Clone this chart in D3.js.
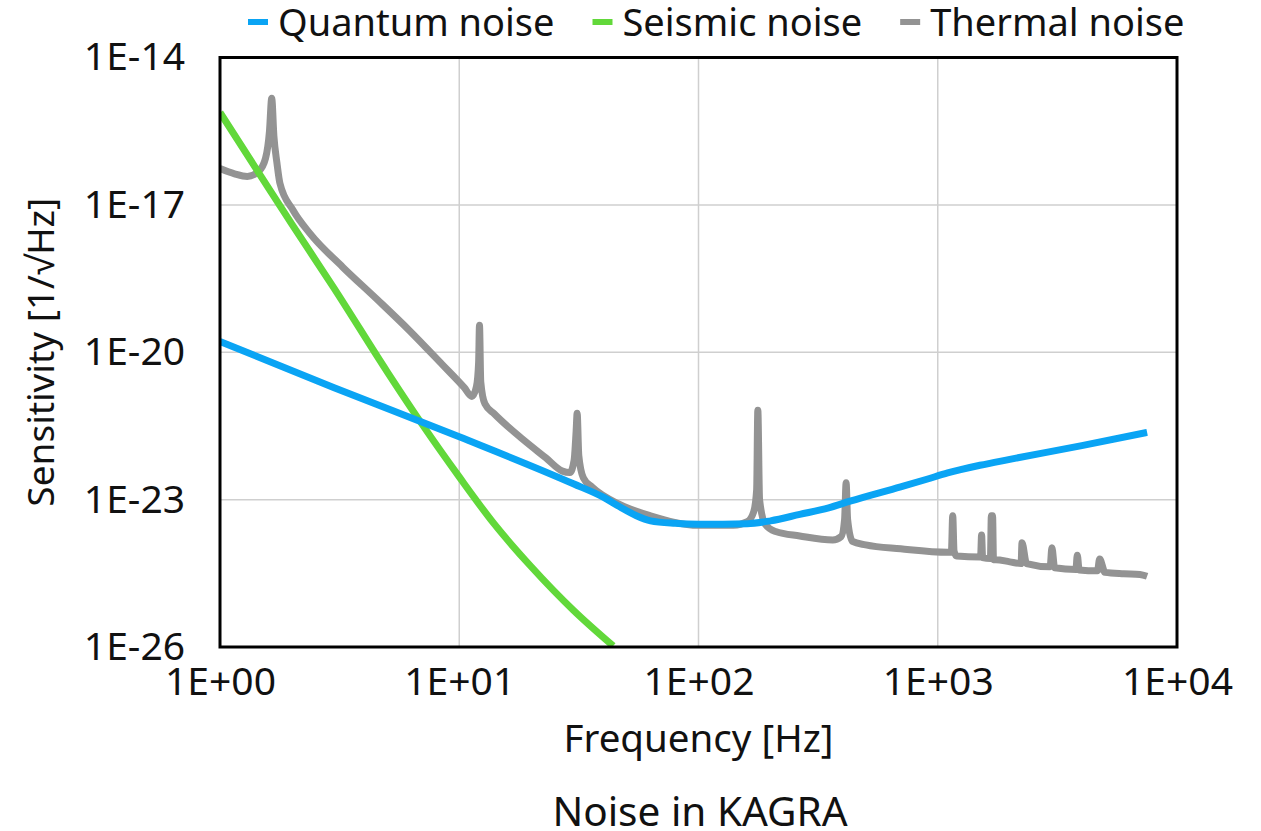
<!DOCTYPE html>
<html>
<head>
<meta charset="utf-8">
<script src="https://d3js.org/d3.v7.min.js"></script>
<style>
  body { margin: 0; background: #fff; }
  svg text { font-family: "Noto Sans", "Open Sans", sans-serif; fill: #111; }
</style>
</head>
<body>
<svg id="chart" width="1261" height="831"></svg>
<script>
// frequencies [Hz] and noise values [1/sqrt(Hz)]
var quantumFreq = [1, 3, 10, 30, 40, 47, 55, 63, 80, 100, 160, 200, 265, 350, 430, 700, 900, 1100, 1500, 2000, 4000, 7500];
var quantumVal  = [1.66e-20, 1.9e-21, 1.9e-22, 2.1e-23, 1.12e-23, 7.1e-24, 4.7e-24, 3.7e-24, 3.3e-24, 3.16e-24,
                   3.24e-24, 3.7e-24, 5.0e-24, 6.8e-24, 9.3e-24, 1.82e-23, 2.6e-23, 3.5e-23, 5.0e-23, 6.6e-23, 1.26e-22, 2.34e-22];

var seismicFreq = [1, 1.5, 2, 3, 5, 7, 10, 14, 20, 30, 44];
var seismicVal  = [7.6e-16, 3.5e-17, 4.0e-18, 2.0e-19, 4.0e-21, 3.4e-22, 2.9e-23, 3.2e-24, 4.3e-25, 5.6e-26, 1.05e-26];

var thermalFreq = [1, 1.15, 1.3, 1.45, 1.55, 1.61, 1.645, 1.68, 1.73, 1.78, 2.02, 2.38, 3.26, 4.53, 6.2, 8.5,
                   10.5, 11.3, 11.8, 12.05, 12.15, 12.3, 12.8, 14, 18.4, 23, 27, 29, 30.2, 30.8, 31.1, 31.6, 33, 36,
                   47, 63, 100, 140, 160, 170, 175, 177, 180, 190, 210, 265, 364, 395, 408, 414, 420, 440, 500, 700,
                   1100, 1140, 1155, 1170, 1200, 1500, 1510, 1525, 1540, 1660, 1675, 1695, 1710, 1750, 2000,
                   2230, 2250, 2350, 2950, 3000, 3080, 3780, 3830, 3900, 4650, 4750, 5000, 6000, 7000, 7500];
var thermalVal  = [5.5e-17, 4.3e-17, 3.8e-17, 4.8e-17, 8.9e-17, 3.2e-16, 1.48e-15, 2.5e-16, 7.1e-17, 2.75e-17,
                   7.8e-18, 2.6e-18, 5.4e-19, 1.2e-19, 2.75e-20, 5.6e-21,
                   1.9e-21, 1.26e-21, 2.0e-21, 6.3e-21, 3.55e-20, 2.5e-21, 8.9e-22, 5.6e-22, 1.7e-22, 7.1e-23,
                   3.8e-23, 3.55e-23, 6.3e-23, 2.5e-22, 5.75e-22, 7.9e-23, 2.8e-23, 1.78e-23,
                   7.9e-24, 4.7e-24, 3.0e-24, 3.0e-24, 3.55e-24, 5.6e-24, 1.58e-23, 6.6e-22, 1.0e-23, 3.16e-24,
                   2.24e-24, 1.82e-24, 1.51e-24, 1.78e-24, 3.98e-24, 2.2e-23, 3.98e-24, 1.41e-24, 1.2e-24, 1.0e-24,
                   8.5e-25, 8.5e-25, 4.7e-24, 8.9e-25, 7.1e-25, 6.8e-25, 6.8e-25, 1.9e-24, 6.6e-25, 6.3e-25,
                   4.7e-24, 4.7e-24, 6.0e-25, 6.0e-25, 5.4e-25,
                   5.0e-25, 1.32e-24, 5.0e-25, 4.3e-25, 1.05e-24, 4.1e-25, 3.8e-25, 7.4e-25, 3.7e-25, 3.55e-25,
                   6.2e-25, 3.3e-25, 3.1e-25, 3.0e-25, 2.75e-25];

var xTicks = [1, 10, 100, 1000, 10000];
var yTicks = [1e-26, 1e-23, 1e-20, 1e-17, 1e-14];

var seriesNames  = ["Quantum noise", "Seismic noise", "Thermal noise"];
var seriesColors = ["#0aa4f4", "#62d83a", "#939393"];

var svg = d3.select("#chart");
var m = { left: 220, top: 57.5, right: 1177, bottom: 647 };

var x = d3.scaleLog().domain([1, 1e4]).range([m.left, m.right]);
var y = d3.scaleLog().domain([1e-26, 1e-14]).range([m.bottom, m.top]);

function expLabel(v) {
  var e = Math.round(Math.log10(v));
  var s = String(Math.abs(e)).padStart(2, "0");
  return "1E" + (e < 0 ? "-" : "+") + s;
}

// grid
svg.append("g")
  .selectAll("line")
  .data(xTicks)
  .join("line")
  .attr("x1", d => x(d)).attr("x2", d => x(d))
  .attr("y1", m.top).attr("y2", m.bottom)
  .attr("stroke", "#cfcfcf").attr("stroke-width", 1.5);
svg.append("g")
  .selectAll("line")
  .data(yTicks)
  .join("line")
  .attr("x1", m.left).attr("x2", m.right)
  .attr("y1", d => y(d)).attr("y2", d => y(d))
  .attr("stroke", "#cfcfcf").attr("stroke-width", 1.5);

// tick labels
var xAxis = d3.axisBottom(x).tickValues(xTicks).tickFormat(expLabel).tickSize(0).tickPadding(20);
var gx = svg.append("g").attr("transform", "translate(0," + m.bottom + ")").call(xAxis);
gx.select(".domain").remove();
gx.selectAll("text").style("font-size", "39px").attr("fill", "#111");

var yAxis = d3.axisLeft(y).tickValues(yTicks).tickFormat(expLabel).tickSize(0).tickPadding(35);
var gy = svg.append("g").attr("transform", "translate(" + m.left + ",0)").call(yAxis);
gy.select(".domain").remove();
gy.selectAll("text").style("font-size", "39px").attr("fill", "#111");

// series
svg.append("defs").append("clipPath").attr("id", "plotClip")
  .append("rect")
  .attr("x", m.left).attr("y", m.top)
  .attr("width", m.right - m.left).attr("height", m.bottom - m.top);

var line = d3.line().x(d => x(d[0])).y(d => y(d[1])).curve(d3.curveMonotoneX);

var series = [
  d3.zip(quantumFreq, quantumVal),
  d3.zip(seismicFreq, seismicVal),
  d3.zip(thermalFreq, thermalVal)
];
var order = [2, 1, 0];   // thermal first, quantum on top
var plot = svg.append("g").attr("clip-path", "url(#plotClip)");
order.forEach(function (i) {
  plot.append("path")
    .datum(series[i])
    .attr("d", line)
    .attr("fill", "none")
    .attr("stroke", seriesColors[i])
    .attr("stroke-width", 7);
});

// frame
svg.append("rect")
  .attr("x", m.left).attr("y", m.top)
  .attr("width", m.right - m.left).attr("height", m.bottom - m.top)
  .attr("fill", "none").attr("stroke", "#000").attr("stroke-width", 3);

// titles
svg.append("text")
  .attr("x", (m.left + m.right) / 2).attr("y", 752)
  .attr("text-anchor", "middle").style("font-size", "38.5px")
  .text("Frequency [Hz]");
svg.append("text")
  .attr("transform", "translate(54," + ((m.top + m.bottom) / 2) + ") rotate(-90)")
  .attr("text-anchor", "middle").style("font-size", "37px")
  .text("Sensitivity [1/√Hz]");
svg.append("text")
  .attr("x", 700).attr("y", 826)
  .attr("text-anchor", "middle").style("font-size", "40.5px")
  .text("Noise in KAGRA");

// legend
var legend = svg.append("g");
var lx = 248;
seriesNames.forEach(function (name, i) {
  legend.append("line")
    .attr("x1", lx).attr("x2", lx + 20)
    .attr("y1", 22).attr("y2", 22)
    .attr("stroke", seriesColors[i]).attr("stroke-width", 6);
  var t = legend.append("text")
    .attr("x", lx + 30).attr("y", 36)
    .style("font-size", "38px")
    .text(name);
  lx += 30 + t.node().getComputedTextLength() + 38;
});
</script>
</body>
</html>
